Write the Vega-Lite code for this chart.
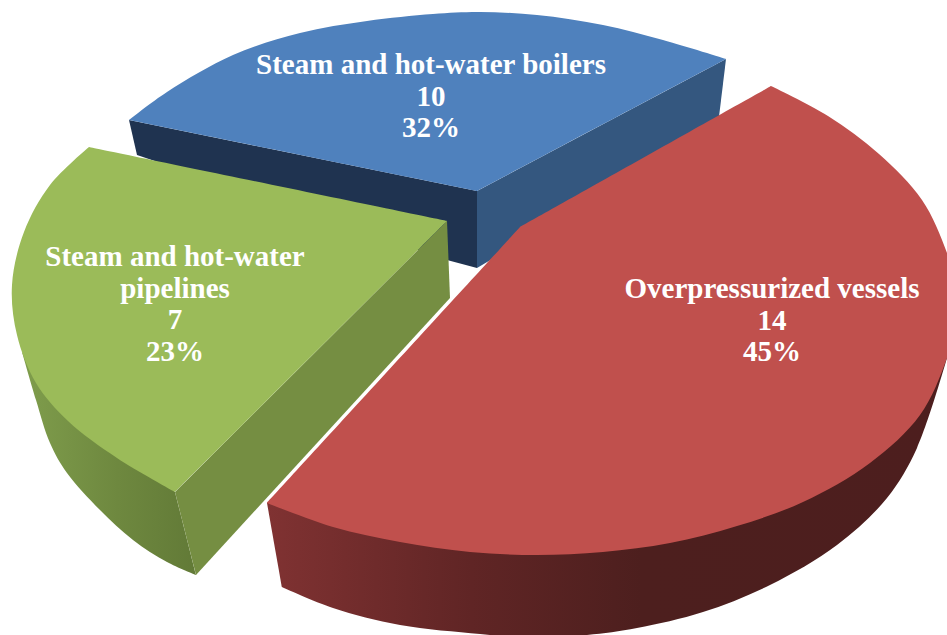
{
"$schema":"https://vega.github.io/schema/vega-lite/v6.json",
"autosize":{"type":"fit","contains":"padding"},
"width":947,"height":635,"padding":0,
"background":"white",
"config":{"view":{"stroke":null}},
"datasets":{
"faces":[
{"face":"boilers-inner-left","i":1,"x":129,"y":120},{"face":"boilers-inner-left","i":2,"x":477,"y":191},{"face":"boilers-inner-left","i":3,"x":477,"y":268},{"face":"boilers-inner-left","i":4,"x":447,"y":260},{"face":"boilers-inner-left","i":5,"x":137,"y":155},
{"face":"boilers-inner-right","i":1,"x":477,"y":191},{"face":"boilers-inner-right","i":2,"x":726,"y":59},{"face":"boilers-inner-right","i":3,"x":718,"y":125},{"face":"boilers-inner-right","i":4,"x":477,"y":268},
{"face":"boilers-top","i":1,"x":477,"y":191},{"face":"boilers-top","i":2,"x":129,"y":120},{"face":"boilers-top","i":3,"x":129,"y":120},{"face":"boilers-top","i":4,"x":167,"y":92},{"face":"boilers-top","i":5,"x":233,"y":55},{"face":"boilers-top","i":6,"x":300,"y":33},{"face":"boilers-top","i":7,"x":367,"y":21},{"face":"boilers-top","i":8,"x":433,"y":14},{"face":"boilers-top","i":9,"x":480,"y":12},{"face":"boilers-top","i":10,"x":537,"y":15},{"face":"boilers-top","i":11,"x":603,"y":25},{"face":"boilers-top","i":12,"x":663,"y":40},{"face":"boilers-top","i":13,"x":726,"y":59},{"face":"boilers-top","i":14,"x":726,"y":59},{"face":"boilers-top","i":15,"x":477,"y":191},
{"face":"pipelines-rim","i":1,"x":175,"y":492},{"face":"pipelines-rim","i":2,"x":175,"y":492},{"face":"pipelines-rim","i":3,"x":196,"y":575},{"face":"pipelines-rim","i":4,"x":196,"y":575},{"face":"pipelines-rim","i":5,"x":167,"y":562},{"face":"pipelines-rim","i":6,"x":133,"y":540},{"face":"pipelines-rim","i":7,"x":100,"y":510},{"face":"pipelines-rim","i":8,"x":67,"y":473},{"face":"pipelines-rim","i":9,"x":50,"y":443},{"face":"pipelines-rim","i":10,"x":36,"y":400},{"face":"pipelines-rim","i":11,"x":22,"y":352},
{"face":"pipelines-inner","i":1,"x":447,"y":221},{"face":"pipelines-inner","i":2,"x":175,"y":492},{"face":"pipelines-inner","i":3,"x":196,"y":575},{"face":"pipelines-inner","i":4,"x":450,"y":298},
{"face":"pipelines-top","i":1,"x":447,"y":221},{"face":"pipelines-top","i":2,"x":89,"y":147},{"face":"pipelines-top","i":3,"x":89,"y":147},{"face":"pipelines-top","i":4,"x":50,"y":185},{"face":"pipelines-top","i":5,"x":24,"y":232},{"face":"pipelines-top","i":6,"x":12,"y":285},{"face":"pipelines-top","i":7,"x":17,"y":335},{"face":"pipelines-top","i":8,"x":36,"y":383},{"face":"pipelines-top","i":9,"x":68,"y":421},{"face":"pipelines-top","i":10,"x":117,"y":458},{"face":"pipelines-top","i":11,"x":175,"y":492},{"face":"pipelines-top","i":12,"x":175,"y":492},{"face":"pipelines-top","i":13,"x":447,"y":221},
{"face":"vessels-rim","i":1,"x":267,"y":503},{"face":"vessels-rim","i":2,"x":267,"y":503},{"face":"vessels-rim","i":3,"x":282,"y":587},{"face":"vessels-rim","i":4,"x":282,"y":587},{"face":"vessels-rim","i":5,"x":333,"y":608},{"face":"vessels-rim","i":6,"x":400,"y":625},{"face":"vessels-rim","i":7,"x":480,"y":634},{"face":"vessels-rim","i":8,"x":530,"y":638},{"face":"vessels-rim","i":9,"x":587,"y":635},{"face":"vessels-rim","i":10,"x":637,"y":628},{"face":"vessels-rim","i":11,"x":703,"y":612},{"face":"vessels-rim","i":12,"x":770,"y":585},{"face":"vessels-rim","i":13,"x":837,"y":545},{"face":"vessels-rim","i":14,"x":887,"y":498},{"face":"vessels-rim","i":15,"x":917,"y":448},{"face":"vessels-rim","i":16,"x":947,"y":358},
{"face":"vessels-top","i":1,"x":520,"y":227},{"face":"vessels-top","i":2,"x":771,"y":86},{"face":"vessels-top","i":3,"x":771,"y":86},{"face":"vessels-top","i":4,"x":828,"y":116},{"face":"vessels-top","i":5,"x":879,"y":154},{"face":"vessels-top","i":6,"x":922,"y":200},{"face":"vessels-top","i":7,"x":947,"y":253},{"face":"vessels-top","i":8,"x":961,"y":305},{"face":"vessels-top","i":9,"x":947,"y":358},{"face":"vessels-top","i":10,"x":920,"y":415},{"face":"vessels-top","i":11,"x":870,"y":463},{"face":"vessels-top","i":12,"x":803,"y":502},{"face":"vessels-top","i":13,"x":737,"y":526},{"face":"vessels-top","i":14,"x":670,"y":543},{"face":"vessels-top","i":15,"x":603,"y":552},{"face":"vessels-top","i":16,"x":537,"y":555},{"face":"vessels-top","i":17,"x":470,"y":552},{"face":"vessels-top","i":18,"x":400,"y":542},{"face":"vessels-top","i":19,"x":333,"y":527},{"face":"vessels-top","i":20,"x":267,"y":503},{"face":"vessels-top","i":21,"x":267,"y":503},{"face":"vessels-top","i":22,"x":520,"y":227}
],
"slices":[
{"label":"Steam and hot-water boilers\n10\n32%","x":431,"y":65},
{"label":"Steam and hot-water\npipelines\n7\n23%","x":175,"y":257},
{"label":"Overpressurized vessels\n14\n45%","x":772,"y":289}
]
},
"encoding":{
"x":{"field":"x","type":"quantitative","scale":{"domain":[0,947],"nice":false,"zero":false},"axis":null},
"y":{"field":"y","type":"quantitative","scale":{"domain":[635,0],"nice":false,"zero":false},"axis":null}
},
"layer":[
{"data":{"name":"faces"},"transform":[{"filter":"datum.face==='boilers-inner-left'"}],"mark":{"type":"line","fill":"#1F3350","stroke":null,"clip":true},"encoding":{"order":{"field":"i","type":"quantitative"}}},
{"data":{"name":"faces"},"transform":[{"filter":"datum.face==='boilers-inner-right'"}],"mark":{"type":"line","fill":"#34577F","stroke":null,"clip":true},"encoding":{"order":{"field":"i","type":"quantitative"}}},
{"data":{"name":"faces"},"transform":[{"filter":"datum.face==='boilers-top'"}],"mark":{"type":"line","interpolate":"catmull-rom","fill":"#4F81BD","stroke":null,"clip":true},"encoding":{"order":{"field":"i","type":"quantitative"}}},
{"data":{"name":"faces"},"transform":[{"filter":"datum.face==='pipelines-rim'"}],"mark":{"type":"line","interpolate":"catmull-rom","stroke":null,"clip":true,"fill":{"gradient":"linear","x1":0,"x2":1,"y1":0,"y2":0,"stops":[{"offset":0,"color":"#7F9D4C"},{"offset":0.55,"color":"#6E883F"},{"offset":1,"color":"#627A37"}]}},"encoding":{"order":{"field":"i","type":"quantitative"}}},
{"data":{"name":"faces"},"transform":[{"filter":"datum.face==='pipelines-inner'"}],"mark":{"type":"line","fill":"#758E42","stroke":null,"clip":true},"encoding":{"order":{"field":"i","type":"quantitative"}}},
{"data":{"name":"faces"},"transform":[{"filter":"datum.face==='pipelines-top'"}],"mark":{"type":"line","interpolate":"catmull-rom","fill":"#9BBB59","stroke":null,"clip":true},"encoding":{"order":{"field":"i","type":"quantitative"}}},
{"data":{"name":"faces"},"transform":[{"filter":"datum.face==='vessels-rim'"}],"mark":{"type":"line","interpolate":"catmull-rom","stroke":null,"clip":true,"fill":{"gradient":"linear","x1":0,"x2":1,"y1":0,"y2":0,"stops":[{"offset":0,"color":"#803232"},{"offset":0.3,"color":"#602525"},{"offset":0.55,"color":"#4D1F1E"},{"offset":1,"color":"#4D1E1E"}]}},"encoding":{"order":{"field":"i","type":"quantitative"}}},
{"data":{"name":"faces"},"transform":[{"filter":"datum.face==='vessels-top'"}],"mark":{"type":"line","interpolate":"catmull-rom","fill":"#C0504D","stroke":null,"clip":true},"encoding":{"order":{"field":"i","type":"quantitative"}}},
{"data":{"name":"slices"},"mark":{"type":"text","align":"center","baseline":"middle","lineBreak":"\n","lineHeight":31.7,"font":"Liberation Serif","fontWeight":"bold","fontSize":29,"fill":"white"},"encoding":{"text":{"field":"label","type":"nominal"}}}
]
}
